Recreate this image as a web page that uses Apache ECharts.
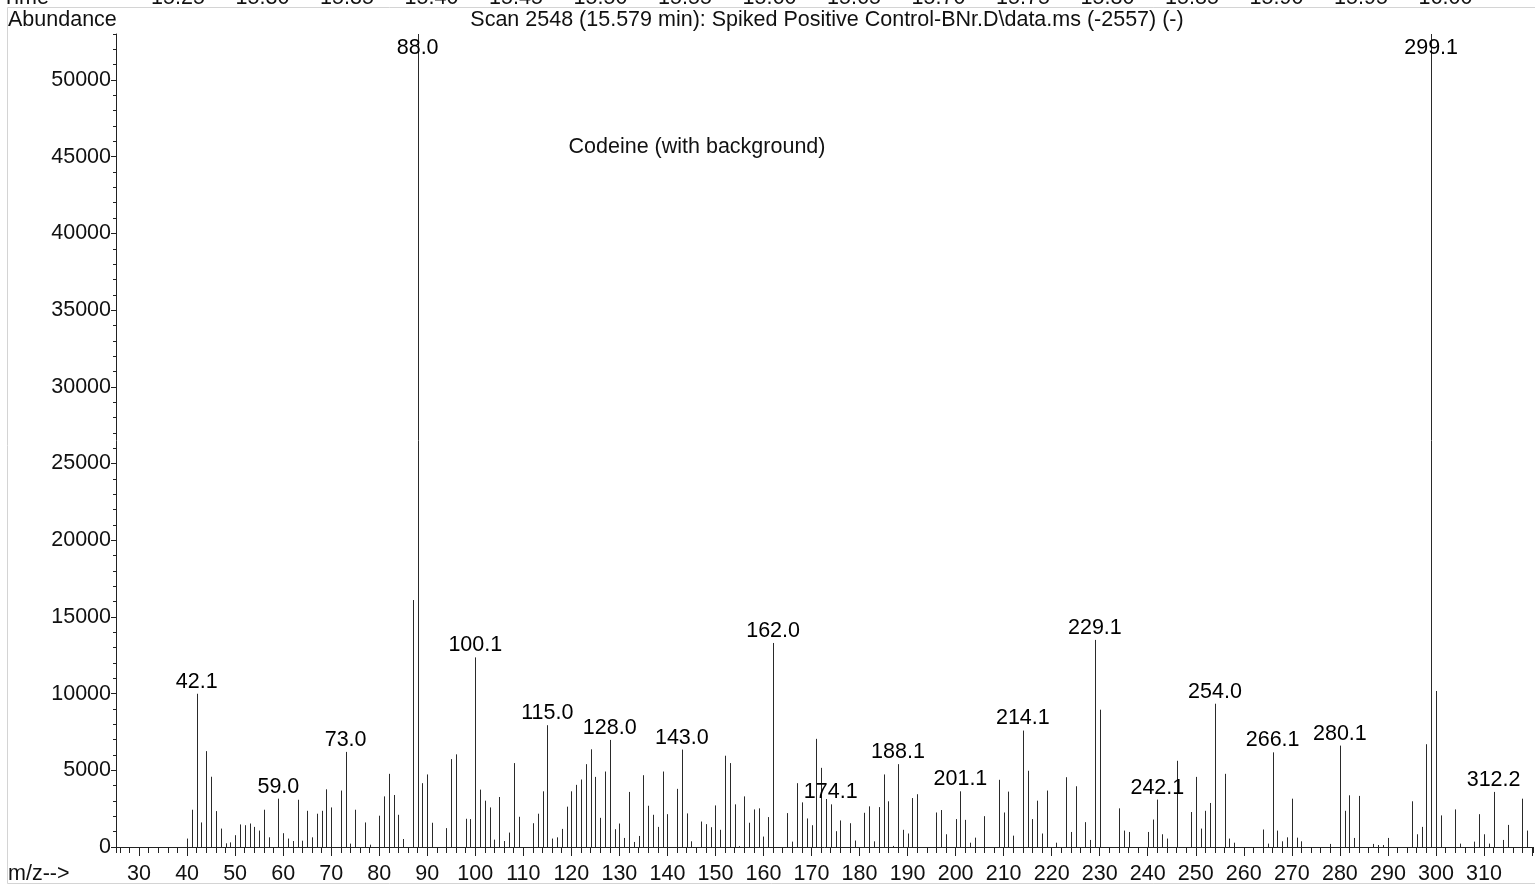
<!DOCTYPE html>
<html><head><meta charset="utf-8">
<script src="https://cdn.jsdelivr.net/npm/echarts@6/dist/echarts.min.js"></script>
<style>html,body{margin:0;padding:0;background:#fff}#c{width:1535px;height:888px}</style>
</head><body><div id="c"></div>
<script>
// m/z values of the stems
const mz = [40,41,42,43,44,45,46,47,48,49,50,51,52,53,54,55,56,57,59,60,61,62,63,64,65,66,67,68,69,70,72,73,74,75,77,78,80,81,82,83,84,85,87,88,89,90,91,94,95,96,98,99,100,101,102,103,104,105,106,107,108,109,112,113,114,115,116,117,118,119,120,121,122,123,124,125,126,127,128,129,130,131,132,133,134,135,136,137,138,139,140,142,143,144,145,147,148,149,150,151,152,153,154,155,156,157,158,159,160,161,162,165,166,167,168,169,170,171,172,173,174,175,176,178,179,181,182,183,184,185,186,187,188,189,190,191,192,196,197,198,200,201,202,203,204,206,209,210,211,212,214,215,216,217,218,219,221,223,224,225,227,228,229,230,234,235,236,240,241,242,243,244,246,249,250,251,252,253,254,256,257,258,264,265,266,267,268,269,270,271,272,278,280,281,282,283,284,287,288,289,290,295,296,297,298,299,300,301,304,305,308,309,310,311,312,314,315,318,319];
// abundances (counts), same order as mz
const abundance = [550,2430,9990,1600,6250,4580,2340,1200,240,300,770,1470,1420,1530,1310,1070,2430,630,3150,900,550,390,3080,410,2360,630,2170,2360,3760,2580,3680,6200,220,2430,1600,150,2040,3300,4770,3390,2100,520,16100,53000,4160,4730,1580,1230,5730,6040,1840,1820,12360,3740,3020,2580,480,3260,390,940,5470,1970,1550,2170,3630,7940,550,630,1180,2630,3630,4050,4400,5400,6370,4570,1900,4920,6980,1160,1530,590,3590,330,720,4680,2690,2100,1310,4920,2140,3790,6350,2190,370,1660,1490,1290,2710,1120,5950,5470,2780,50,3300,1580,2450,2520,680,1950,13300,2210,350,4160,2910,1860,1420,7050,5160,3130,2780,1030,1730,1550,420,2230,2650,370,2600,4730,2980,70,5400,1120,880,3190,3440,2250,2410,830,1820,3630,1770,280,610,2010,4380,2250,3610,740,7590,4970,1820,3020,880,3680,280,4550,980,3960,1620,460,13500,8950,2520,1070,980,980,1790,3090,830,550,5620,2280,4570,1200,2360,2870,9340,4770,550,280,1140,220,6170,1070,370,630,3150,610,370,200,6610,2360,3370,590,3330,200,130,130,590,2980,830,1310,6700,53000,10170,2060,2450,220,350,2140,830,220,3590,460,1440,3150,1070];
// labelled peaks
const peakLabelMz = [42,59,73,88,100,115,128,143,162,174,188,201,214,229,242,254,266,280,299,312];
const peakLabelText = ['42.1','59.0','73.0','88.0','100.1','115.0','128.0','143.0','162.0','174.1','188.1','201.1','214.1','229.1','242.1','254.0','266.1','280.1','299.1','312.2'];
// retention-time strip (cut off at the top)
const timeLabels = ['15.25','15.30','15.35','15.40','15.45','15.50','15.55','15.60','15.65','15.70','15.75','15.80','15.85','15.90','15.95','16.00'];
const titleText = 'Scan 2548 (15.579 min): Spiked Positive Control-BNr.D\\data.ms (-2557) (-)';
const noteText = 'Codeine (with background)';

const X_MIN = 25.2, X_MAX = 320.2, Y_MIN = 0, Y_MAX = 53000;
const FONT = "'Liberation Sans', Arial, sans-serif";
const FS = 21.5;
const INK = '#111';

const stems = mz.map((m, i) => [m, abundance[i]]);
const labelPts = peakLabelMz.map((m, i) => {
  const v = abundance[mz.indexOf(m)];
  return { value: [m, Math.min(v, Y_MAX - 1700)], name: peakLabelText[i] };
});

const chart = echarts.init(document.getElementById('c'), null, { renderer: 'canvas' });

const graphics = [
  { type: 'line', shape: { x1: 7.5, y1: 7.5, x2: 1535, y2: 7.5 }, style: { stroke: '#d4d4d4', lineWidth: 1 } },
  { type: 'line', shape: { x1: 7.5, y1: 7.5, x2: 7.5, y2: 883.5 }, style: { stroke: '#d4d4d4', lineWidth: 1 } },
  { type: 'line', shape: { x1: 7.5, y1: 883.5, x2: 1535, y2: 883.5 }, style: { stroke: '#d4d4d4', lineWidth: 1 } },
  { type: 'text', x: 2, y: -2, style: { text: 'Time', font: `${FS}px ${FONT}`, fill: INK, textAlign: 'left', textVerticalAlign: 'middle' } },
  { type: 'text', x: 8, y: 20, style: { text: 'Abundance', font: `${FS}px ${FONT}`, fill: INK, textAlign: 'left', textVerticalAlign: 'middle' } },
  { type: 'text', x: 827, y: 20, style: { text: titleText, font: `${FS}px ${FONT}`, fill: INK, textAlign: 'center', textVerticalAlign: 'middle' } },
  { type: 'text', x: 697, y: 147, style: { text: noteText, font: `${FS}px ${FONT}`, fill: INK, textAlign: 'center', textVerticalAlign: 'middle' } },
  { type: 'text', x: 8, y: 874, style: { text: 'm/z-->', font: `${FS}px ${FONT}`, fill: INK, textAlign: 'left', textVerticalAlign: 'middle' } }
];
timeLabels.forEach((t, i) => {
  graphics.push({ type: 'text', x: 178 + 84.5 * i, y: -2, style: { text: t, font: `${FS}px ${FONT}`, fill: INK, textAlign: 'center', textVerticalAlign: 'middle' } });
});

chart.setOption({
  animation: false,
  backgroundColor: '#fff',
  grid: { left: 116, right: 2, top: 34, bottom: 41, containLabel: false },
  xAxis: [
    {
      type: 'value', min: X_MIN, max: X_MAX, splitNumber: 30, minInterval: 10, maxInterval: 10,
      position: 'bottom',
      axisLine: { show: true, onZero: false, lineStyle: { color: '#222', width: 1 } },
      axisTick: { show: true, length: 9, lineStyle: { color: '#222', width: 1 } },
      axisLabel: {
        margin: 16, color: INK, fontSize: FS, fontFamily: FONT,
        showMinLabel: false, showMaxLabel: false,
        formatter: v => (Math.abs(v % 10) < 1e-6 && v <= 310) ? String(v) : ''
      },
      splitLine: { show: false }
    },
    {
      type: 'value', min: X_MIN, max: X_MAX, splitNumber: 150, minInterval: 2, maxInterval: 2,
      position: 'bottom',
      axisLine: { show: false, onZero: false },
      axisTick: { show: true, length: 6, lineStyle: { color: '#222', width: 1 } },
      axisLabel: { show: false },
      splitLine: { show: false }
    }
  ],
  yAxis: [
    {
      type: 'value', min: Y_MIN, max: Y_MAX, interval: 5000, position: 'left',
      axisLine: { show: true, onZero: false, lineStyle: { color: '#222', width: 1 } },
      axisTick: { show: true, length: 5, lineStyle: { color: '#222', width: 1 } },
      axisLabel: {
        margin: 5, color: INK, fontSize: FS, fontFamily: FONT,
        showMaxLabel: false,
        formatter: v => (v % 5000 === 0) ? String(v) : ''
      },
      splitLine: { show: false }
    },
    {
      type: 'value', min: Y_MIN, max: Y_MAX, interval: 1000, position: 'left',
      axisLine: { show: false, onZero: false },
      axisTick: { show: true, length: 3, lineStyle: { color: '#222', width: 1 } },
      axisLabel: { show: false },
      splitLine: { show: false }
    }
  ],
  graphic: graphics,
  series: [
    {
      type: 'custom', xAxisIndex: 0, yAxisIndex: 0, clip: true,
      data: stems,
      renderItem: (params, api) => {
        const p0 = api.coord([api.value(0), 0]);
        const p1 = api.coord([api.value(0), api.value(1)]);
        const x = Math.round(p0[0]) + 0.5;
        return { type: 'line', shape: { x1: x, y1: p0[1], x2: x, y2: p1[1] }, style: { stroke: '#2a2a2a', lineWidth: 1 } };
      }
    },
    {
      type: 'scatter', xAxisIndex: 0, yAxisIndex: 0, symbolSize: 0, silent: true,
      data: labelPts,
      itemStyle: { color: '#000' },
      label: {
        show: true, position: 'top', distance: 1,
        formatter: p => p.name, color: '#000', opacity: 1, fontSize: FS, fontFamily: FONT
      },
      z: 5
    }
  ]
});
</script>
</body></html>
